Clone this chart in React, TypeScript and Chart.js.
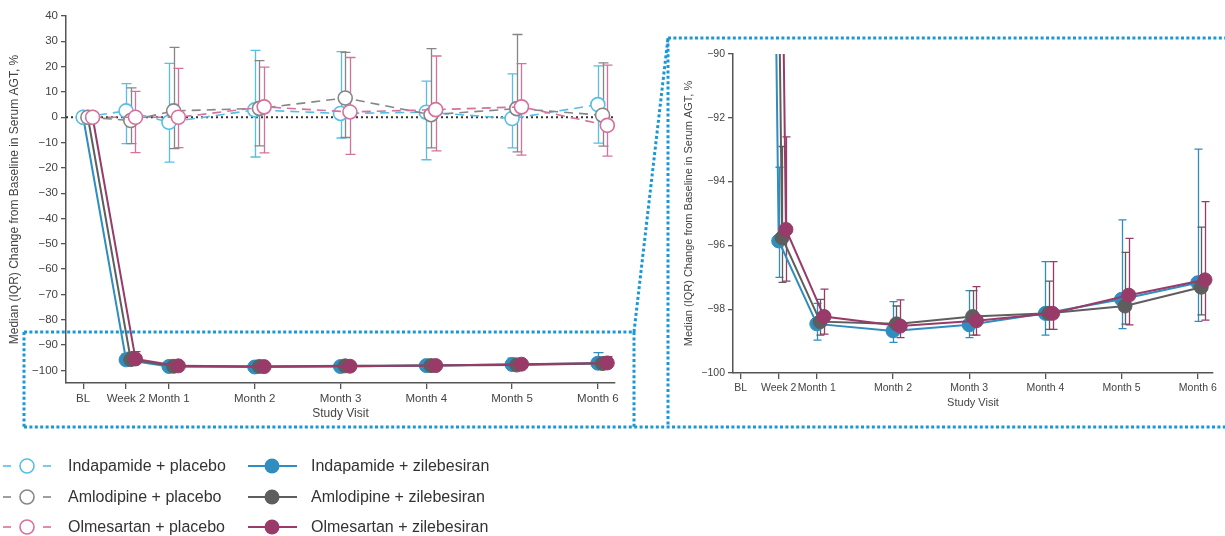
import React, { useEffect, useRef } from "react";
import { Chart, registerables } from "chart.js";

Chart.register(...registerables);

// ---------- data ----------
const visitLabels = ["BL", "Week 2", "Month 1", "Month 2", "Month 3", "Month 4", "Month 5", "Month 6"];
const visitMonths = [0, 0.5, 1, 2, 3, 4, 5, 6];

const seriesNames = [
  "Indapamide + placebo",
  "Amlodipine + placebo",
  "Olmesartan + placebo",
  "Indapamide + zilebesiran",
  "Amlodipine + zilebesiran",
  "Olmesartan + zilebesiran",
];

// placebo groups: median, lower IQR, upper IQR
const indPlaMedian = [0, 2.5, -2.0, 2.9, 1.5, 2.0, -0.5, 5.0];
const indPlaLow = [null, -10.4, -17.7, -15.7, -8.2, -16.8, -12.1, -10.2];
const indPlaHigh = [null, 13.3, 21.3, 26.4, 25.9, 14.3, 17.1, 20.3];

const amlPlaMedian = [0, -1.3, 2.5, 3.5, 7.6, 1.0, 3.4, 0.8];
const amlPlaLow = [null, -10.4, -12.4, -11.3, -8.0, -12.1, -13.7, -11.4];
const amlPlaHigh = [null, 11.6, 27.6, 22.4, 25.6, 27.1, 32.7, 21.5];

const olmPlaMedian = [0, 0, 0, 4.1, 2.1, 3.0, 4.1, -3.2];
const olmPlaLow = [null, -14.0, -12.0, -14.1, -14.7, -13.3, -15.0, -15.4];
const olmPlaHigh = [null, 10.2, 19.3, 19.8, 23.6, 24.2, 21.2, 20.6];

// zilebesiran groups
const indZilMedian = [0, -95.86, -98.46, -98.68, -98.49, -98.13, -97.69, -97.17];
const indZilLow = [null, -97.0, -98.97, -99.04, -98.89, -98.81, -98.61, -98.38];
const indZilHigh = [null, -93.55, -97.82, -97.76, -97.42, -96.51, -95.2, -92.98];

const amlZilMedian = [0, -95.76, -98.39, -98.46, -98.23, -98.13, -97.9, -97.31];
const amlZilLow = [null, -97.16, -98.81, -98.72, -98.81, -98.63, -98.47, -98.18];
const amlZilHigh = [null, -92.9, -97.69, -97.9, -97.42, -97.12, -96.22, -95.43];

const olmZilMedian = [0, -95.5, -98.23, -98.53, -98.36, -98.13, -97.56, -97.08];
const olmZilLow = [null, -97.12, -98.78, -98.89, -98.81, -98.63, -98.49, -98.34];
const olmZilHigh = [null, -92.6, -97.37, -97.71, -97.29, -96.51, -95.78, -94.63];

const leftYTicks = [40, 30, 20, 10, 0, -10, -20, -30, -40, -50, -60, -70, -80, -90, -100];
const rightYTicks = [-90, -92, -94, -96, -98, -100];

// ---------- styles ----------
const FONT = "'Liberation Sans', Arial, Helvetica, sans-serif";
const TEXT = "#444";
const AXIS = "#555";
const C_IND_PLA = "#57BEE6";
const C_AML_PLA = "#868686";
const C_OLM_PLA = "#D6709D";
const C_IND_ZIL = "#2F8DBF";
const C_AML_ZIL = "#5E5E5E";
const C_OLM_ZIL = "#983B69";
const BOX = "#1A98D5";
const yTitle = "Median (IQR) Change from Baseline in Serum AGT, %";

const fmt = (v: number) => (v < 0 ? "\u2212" + Math.abs(v) : String(v));

const errorBarPlugin = {
  id: "errbars",
  beforeDatasetsDraw(chart: any, _args: any, opts: any) {
    const { ctx, chartArea, scales } = chart;
    const xs = scales.x;
    const ys = scales.y;
    ctx.save();
    ctx.beginPath();
    ctx.rect(chartArea.left, chartArea.top, chartArea.right - chartArea.left, chartArea.bottom - chartArea.top);
    ctx.clip();
    if (opts && opts.zeroLine) {
      const y0 = ys.getPixelForValue(0);
      ctx.setLineDash([2, 3]);
      ctx.strokeStyle = "#333";
      ctx.lineWidth = 2;
      ctx.beginPath();
      ctx.moveTo(chartArea.left, y0);
      ctx.lineTo(chartArea.right - 2, y0);
      ctx.stroke();
    }
    ctx.setLineDash([]);
    const cap = (opts && opts.cap) || 4;
    const metas = chart.getSortedVisibleDatasetMetas();
    for (let k = metas.length - 1; k >= 0; k--) {
      const ds: any = chart.data.datasets[metas[k].index];
      if (!ds.errLow) continue;
      ctx.strokeStyle = ds.errColor;
      ctx.lineWidth = 1.3;
      ds.data.forEach((pt: any, j: number) => {
        const lo = ds.errLow[j];
        const hi = ds.errHigh[j];
        if (lo == null || hi == null) return;
        const px = Math.round(xs.getPixelForValue(pt.x)) + 0.5;
        const yl = ys.getPixelForValue(lo);
        const yh = ys.getPixelForValue(hi);
        ctx.beginPath();
        ctx.moveTo(px, yl);
        ctx.lineTo(px, yh);
        ctx.moveTo(px - cap, yl);
        ctx.lineTo(px + cap, yl);
        ctx.moveTo(px - cap, yh);
        ctx.lineTo(px + cap, yh);
        ctx.stroke();
      });
    }
    ctx.restore();
  },
};

function makeSet(label: string, vals: number[], lo: any[], hi: any[], color: string, placebo: boolean,
  offset: number, order: number, radius: number) {
  return {
    label,
    order,
    data: visitMonths.map((m, i) => ({ x: m + offset, y: vals[i] })),
    borderColor: color,
    backgroundColor: color,
    borderWidth: placebo ? 1.6 : 2,
    borderDash: placebo ? [9, 6] : [],
    pointRadius: radius,
    pointHoverRadius: radius,
    pointBackgroundColor: placebo ? "#fff" : color,
    pointBorderColor: color,
    pointBorderWidth: placebo ? 1.6 : 1,
    tension: 0,
    errLow: lo,
    errHigh: hi,
    errColor: color,
  };
}

function buildConfig(p: {
  datasets: any[]; yMin: number; yMax: number; yTicks: number[]; xMin: number; xMax: number;
  tickFont: number; titleFont: number; yWidth: number; xHeight: number; padding: any;
  yTitlePad: number; zeroLine: boolean; cap: number;
}): any {
  return {
    type: "line",
    data: { datasets: p.datasets },
    plugins: [errorBarPlugin],
    options: {
      animation: false,
      responsive: false,
      events: [],
      layout: { padding: p.padding },
      plugins: {
        legend: { display: false },
        tooltip: { enabled: false },
        errbars: { zeroLine: p.zeroLine, cap: p.cap },
      },
      scales: {
        x: {
          type: "linear",
          min: p.xMin,
          max: p.xMax,
          afterBuildTicks: (s: any) => {
            s.ticks = visitMonths.map((v) => ({ value: v }));
          },
          afterFit: (s: any) => {
            s.height = p.xHeight;
          },
          ticks: {
            autoSkip: false,
            maxRotation: 0,
            padding: 3,
            color: TEXT,
            font: { family: FONT, size: p.tickFont },
            callback: (_v: any, i: number) => visitLabels[i],
          },
          grid: { display: true, drawOnChartArea: false, drawTicks: true, tickLength: 6, color: AXIS, lineWidth: 1.3 },
          border: { display: true, color: AXIS, width: 1.5 },
          title: {
            display: true,
            text: "Study Visit",
            color: TEXT,
            font: { family: FONT, size: p.titleFont },
            padding: { top: 2, bottom: 0 },
          },
        },
        y: {
          type: "linear",
          min: p.yMin,
          max: p.yMax,
          afterBuildTicks: (s: any) => {
            s.ticks = p.yTicks.map((v) => ({ value: v }));
          },
          afterFit: (s: any) => {
            s.width = p.yWidth;
          },
          ticks: {
            padding: 3,
            color: TEXT,
            font: { family: FONT, size: p.tickFont },
            callback: (v: any) => fmt(Number(v)),
          },
          grid: { display: true, drawOnChartArea: false, drawTicks: true, tickLength: 5, color: AXIS, lineWidth: 1.3 },
          border: { display: true, color: AXIS, width: 1.5 },
          title: {
            display: true,
            text: yTitle,
            color: TEXT,
            font: { family: FONT, size: p.titleFont },
            padding: { top: p.yTitlePad, bottom: 0 },
          },
        },
      },
    },
  };
}

const leftOffsets = [0, 0.055, 0.11];
const rightOffsets = [0, 0.045, 0.095];

export default function App() {
  const leftRef = useRef<HTMLCanvasElement>(null);
  const rightRef = useRef<HTMLCanvasElement>(null);

  useEffect(() => {
    const lo = leftOffsets;
    const leftSets = [
      makeSet(seriesNames[0], indPlaMedian, indPlaLow, indPlaHigh, C_IND_PLA, true, lo[0], 3, 7),
      makeSet(seriesNames[1], amlPlaMedian, amlPlaLow, amlPlaHigh, C_AML_PLA, true, lo[1], 2, 7),
      makeSet(seriesNames[2], olmPlaMedian, olmPlaLow, olmPlaHigh, C_OLM_PLA, true, lo[2], 1, 7),
      makeSet(seriesNames[3], indZilMedian, indZilLow, indZilHigh, C_IND_ZIL, false, lo[0], 6, 7),
      makeSet(seriesNames[4], amlZilMedian, amlZilLow, amlZilHigh, C_AML_ZIL, false, lo[1], 5, 7),
      makeSet(seriesNames[5], olmZilMedian, olmZilLow, olmZilHigh, C_OLM_ZIL, false, lo[2], 4, 7),
    ];
    const ro = rightOffsets;
    const rightSets = [
      makeSet(seriesNames[3], indZilMedian, indZilLow, indZilHigh, C_IND_ZIL, false, ro[0], 3, 7),
      makeSet(seriesNames[4], amlZilMedian, amlZilLow, amlZilHigh, C_AML_ZIL, false, ro[1], 2, 7),
      makeSet(seriesNames[5], olmZilMedian, olmZilLow, olmZilHigh, C_OLM_ZIL, false, ro[2], 1, 7),
    ].map((d: any) => ({ ...d, clip: 0 }));

    const left = new Chart(leftRef.current as HTMLCanvasElement, buildConfig({
      datasets: leftSets, yMin: -105, yMax: 40, yTicks: leftYTicks, xMin: -0.2, xMax: 6.2,
      tickFont: 11.5, titleFont: 12, yWidth: 66, xHeight: 38,
      padding: { top: 16, right: 25, bottom: 9, left: 0 }, yTitlePad: 7, zeroLine: true, cap: 5,
    }));
    const right = new Chart(rightRef.current as HTMLCanvasElement, buildConfig({
      datasets: rightSets, yMin: -100, yMax: -90, yTicks: rightYTicks, xMin: -0.1, xMax: 6.2,
      tickFont: 10.5, titleFont: 11, yWidth: 63, xHeight: 37,
      padding: { top: 12, right: 12, bottom: 17, left: 0 }, yTitlePad: 12, zeroLine: false, cap: 4,
    }));
    return () => {
      left.destroy();
      right.destroy();
    };
  }, []);

  const legendRows = [
    { pla: seriesNames[0], zil: seriesNames[3], pc: C_IND_PLA, zc: C_IND_ZIL },
    { pla: seriesNames[1], zil: seriesNames[4], pc: C_AML_PLA, zc: C_AML_ZIL },
    { pla: seriesNames[2], zil: seriesNames[5], pc: C_OLM_PLA, zc: C_OLM_ZIL },
  ];
  const rowY = [466, 497, 527];
  const dash = "3 2.4";

  return (
    <div style={{ position: "fixed", left: 0, top: 0, width: 1225, height: 536, background: "#fff", overflow: "hidden" }}>
      <canvas ref={leftRef} width={640} height={430} style={{ position: "absolute", left: 0, top: 0 }} />
      <canvas ref={rightRef} width={555} height={385} style={{ position: "absolute", left: 670, top: 42 }} />
      <svg width={1225} height={536} style={{ position: "absolute", left: 0, top: 0, pointerEvents: "none" }}>
        <g stroke={BOX} strokeWidth={3} strokeDasharray={dash} fill="none">
          <line x1={24} y1={332} x2={634} y2={332} />
          <line x1={24} y1={332} x2={24} y2={427} />
          <line x1={634} y1={332} x2={634} y2={427} />
          <line x1={24} y1={427} x2={1225} y2={427} />
          <line x1={634} y1={332} x2={668} y2={38} />
          <line x1={668} y1={38} x2={668} y2={427} />
          <line x1={668} y1={38} x2={1225} y2={38} />
        </g>
        {legendRows.map((r, i) => (
          <g key={i}>
            <line x1={3} y1={rowY[i]} x2={11} y2={rowY[i]} stroke={r.pc} strokeWidth={1.6} />
            <line x1={43} y1={rowY[i]} x2={51} y2={rowY[i]} stroke={r.pc} strokeWidth={1.6} />
            <circle cx={27} cy={rowY[i]} r={7} fill="#fff" stroke={r.pc} strokeWidth={1.6} />
            <line x1={248} y1={rowY[i]} x2={297} y2={rowY[i]} stroke={r.zc} strokeWidth={2} />
            <circle cx={272} cy={rowY[i]} r={7.5} fill={r.zc} />
          </g>
        ))}
      </svg>
      {legendRows.map((r, i) => (
        <React.Fragment key={i}>
          <div style={{ position: "absolute", left: 68, top: rowY[i] - 11, height: 22, lineHeight: "22px", fontSize: 16, fontFamily: FONT, color: "#333", whiteSpace: "nowrap" }}>{r.pla}</div>
          <div style={{ position: "absolute", left: 311, top: rowY[i] - 11, height: 22, lineHeight: "22px", fontSize: 16, fontFamily: FONT, color: "#333", whiteSpace: "nowrap" }}>{r.zil}</div>
        </React.Fragment>
      ))}
    </div>
  );
}
